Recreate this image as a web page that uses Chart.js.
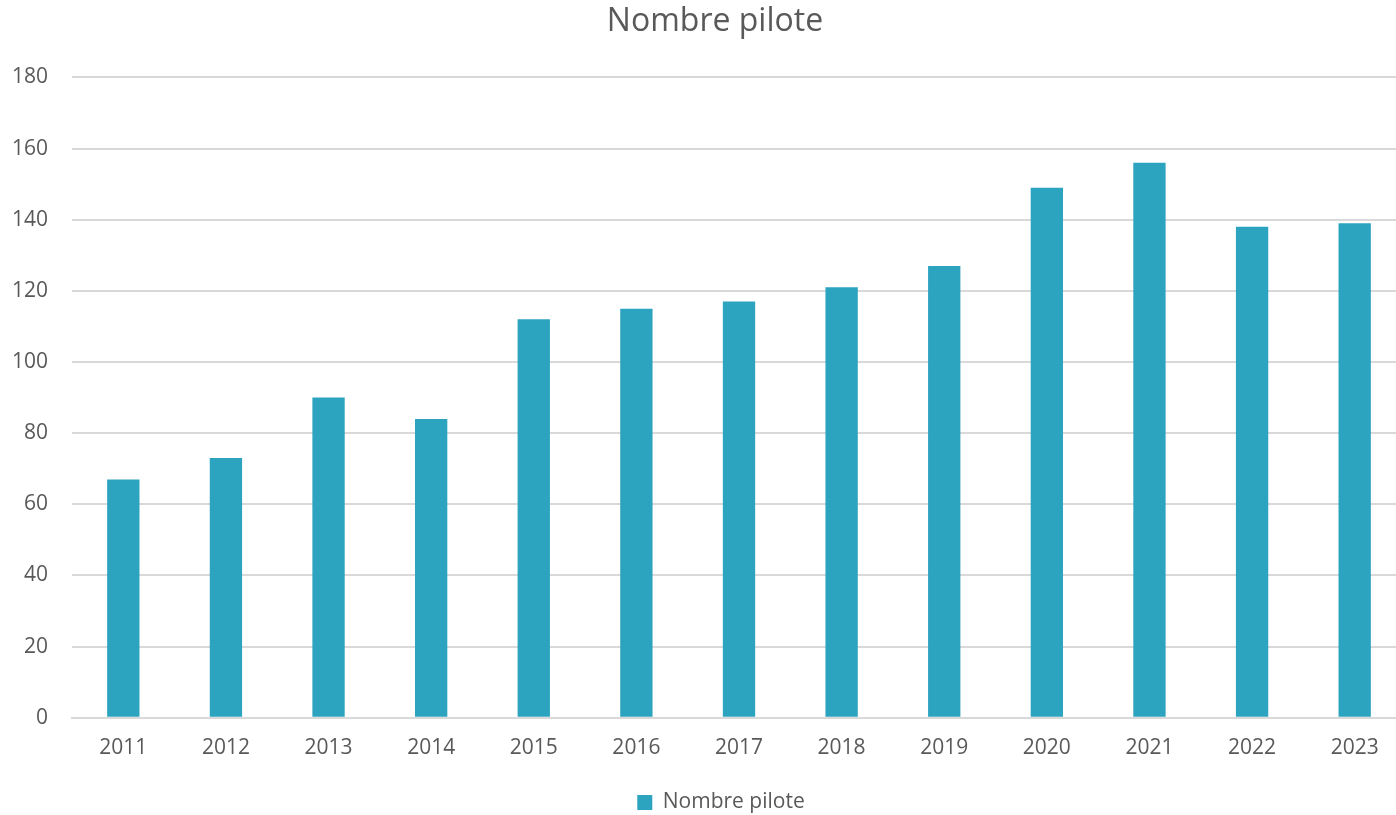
<!DOCTYPE html>
<html>
<head>
<meta charset="utf-8">
<script src="https://cdn.jsdelivr.net/npm/chart.js"></script>
<style>
  html, body { margin: 0; padding: 0; background: #fff; overflow: hidden; }
  canvas { display: block; }
</style>
</head>
<body>
<!-- the original chart is a bit wider than the window and gets cut on the right -->
<canvas id="chart" width="1434" height="815"></canvas>
<script>
// Data
const years = ['2011', '2012', '2013', '2014', '2015', '2016', '2017', '2018', '2019', '2020', '2021', '2022', '2023'];
const pilotCounts = [67, 73, 90, 84, 112, 115, 117, 121, 127, 149, 156, 138, 139];
const yTicks = [0, 20, 40, 60, 80, 100, 120, 140, 160, 180];

const FONT = "'Open Sans', 'Noto Sans', Arial, sans-serif";
const TEXT = '#595959';
const BAR = '#2ca3bf';

// title and legend sit centred on the whole (wider) chart, not on the padded area
const nudgeBoxes = {
  id: 'nudgeBoxes',
  afterLayout(chart) {
    const shift = (box, dx) => { if (box) { box.left += dx; box.right += dx; } };
    shift(chart.titleBlock, 6);
    shift(chart.legend, 12);
  },
};

new Chart(document.getElementById('chart').getContext('2d'), {
  type: 'bar',
  data: {
    labels: years,
    datasets: [{
      label: 'Nombre pilote',
      data: pilotCounts,
      backgroundColor: BAR,
      borderWidth: 0,
      barPercentage: 0.63,
      categoryPercentage: 0.5,
    }],
  },
  options: {
    responsive: false,
    animation: false,
    layout: { padding: { left: 12, right: 28, top: 3, bottom: -8 } },
    plugins: {
      title: {
        display: true,
        text: 'Nombre pilote',
        color: TEXT,
        font: { family: FONT, size: 32, weight: 'normal' },
        padding: { top: 0, bottom: 36 },
      },
      legend: {
        position: 'bottom',
        labels: {
          color: TEXT,
          font: { family: FONT, size: 21 },
          boxWidth: 15,
          boxHeight: 15,
          padding: 13,
        },
      },
      tooltip: { enabled: false },
    },
    scales: {
      x: {
        grid: { display: false, drawTicks: false },
        border: { color: '#d9d9d9', width: 2 },
        ticks: { color: TEXT, font: { family: FONT, size: 21 }, padding: 18, maxRotation: 0 },
      },
      y: {
        min: 0,
        max: 180,
        afterBuildTicks: axis => { axis.ticks = yTicks.map(v => ({ value: v })); },
        afterFit: axis => { axis.width = 60; },
        grid: { color: '#d9d9d9', lineWidth: 2, drawTicks: false },
        border: { display: false },
        ticks: { color: TEXT, font: { family: FONT, size: 21 }, padding: 24 },
      },
    },
  },
  plugins: [nudgeBoxes],
});
</script>
</body>
</html>
